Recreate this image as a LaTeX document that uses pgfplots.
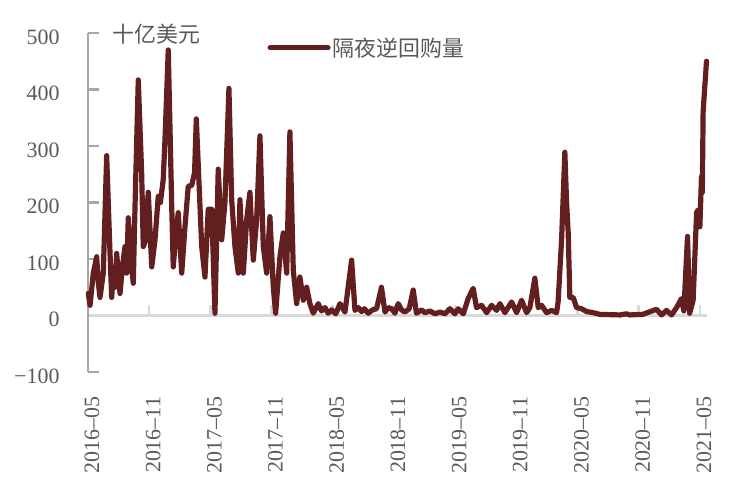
\documentclass[border=0pt]{standalone}
\usepackage{fontspec}
\setmainfont{Liberation Serif}
\newfontfamily\cjk{Noto Sans CJK SC}
\usepackage{pgfplots}
\pgfplotsset{compat=1.18}
\definecolor{linered}{RGB}{99,31,32}
\definecolor{axgray}{RGB}{166,166,166}
\definecolor{zgray}{RGB}{217,217,217}
\definecolor{txtgray}{RGB}{89,89,89}
\begin{document}
\begin{tikzpicture}
\useasboundingbox (-88bp,-117bp) rectangle (654bp,372bp);
\begin{axis}[
 at={(0,0)}, anchor=south west,
 scale only axis, width=619bp, height=339bp,
 xmin=0, xmax=60.7, ymin=-100, ymax=500,
 axis x line=middle, axis y line=left,
 hide obscured x ticks=false,
 x axis line style={draw=zgray, line width=2.5bp, -},
 y axis line style={draw=axgray, line width=2.5bp, -},
 xtick={0,6,...,60},
 xticklabels={2016–05,2016–11,2017–05,2017–11,2018–05,2018–11,2019–05,2019–11,2020–05,2020–11,2021–05},
 ytick={-100,0,100,200,300,400,500},
 yticklabels={−100,0,100,200,300,400,500},
 tick align=inside,
 major tick length=11bp,
 xtick style={draw=zgray, line width=2.5bp},
 ytick style={draw=axgray, line width=2.5bp},
 tick label style={font=\fontsize{22}{24}\selectfont, text=txtgray},
 xticklabel style={yshift=-78bp, xshift=4bp, rotate=90, anchor=east},
 yticklabel style={xshift=-25bp, yshift=-4bp, anchor=east},
 clip=false,
 legend style={at={(rel axis cs:0.285,0.956)}, anchor=west, draw=none, fill=none,
   font=\cjk\fontsize{22}{24}\selectfont, text=txtgray},
 legend image code/.code={\draw[#1, line width=5bp, line cap=round] (0bp,0bp) -- (58bp,0bp);},
]
\addplot[linered, line width=5.2bp, line join=round, line cap=round] coordinates {
(0.03,39) (0.20,18) (0.52,75) (0.85,104) (1.00,60) (1.18,32) (1.50,75) (1.83,283) (2.16,110)
(2.32,32) (2.50,80) (2.65,50) (2.81,110) (3.14,39) (3.40,90) (3.63,122) (3.79,75) (3.95,173) (4.20,100) (4.44,57) (4.61,193)
(4.93,417) (5.26,253) (5.42,122) (5.59,130) (5.91,218) (6.25,86) (6.57,134) (6.89,211)
(7.10,200) (7.38,241) (7.55,312) (7.87,470) (8.21,193) (8.36,86) (8.60,140) (8.85,182) (9.19,75) (9.51,157)
(9.83,229) (10.17,230) (10.45,253) (10.62,348) (11.15,122) (11.47,68) (11.79,188) (12.13,188)
(12.45,4) (12.77,259) (13.11,134) (13.43,200) (13.82,402) (14.09,205) (14.41,122) (14.74,75)
(14.90,205) (15.23,75) (15.56,170) (15.88,218) (16.21,98) (16.54,170) (16.86,318) (17.19,122)
(17.52,75) (17.84,175) (18.17,50) (18.40,4) (18.82,104) (19.15,146) (19.48,75) (19.80,325)
(20.13,80) (20.46,21) (20.78,68) (21.11,27) (21.44,50) (21.76,21) (22.09,4) (22.58,21)
(22.90,8) (23.24,14) (23.55,4) (23.89,10) (24.30,3) (24.71,21) (25.20,6) (25.85,98) (26.18,9) (26.50,14) (26.83,7) (27.10,12) (27.48,4)
(27.90,10) (28.30,12) (28.78,50) (29.12,6) (29.45,14) (29.77,12) (30.10,4) (30.42,21) (30.75,10) (31.08,6) (31.50,12) (31.89,45) (32.21,4)
(32.71,10) (33.04,5) (33.53,8) (34.02,3) (34.51,6) (35.00,3) (35.49,12) (35.98,3)
(36.30,12) (36.80,3) (37.28,30) (37.77,48) (38.10,14) (38.60,18) (39.09,5) (39.58,18)
(40.07,9) (40.39,21) (40.88,5) (41.54,24) (42.03,5) (42.52,27) (43.01,5) (43.33,14)
(43.82,66) (44.15,14) (44.48,18) (44.97,5) (45.46,9) (45.95,5) (46.10,24) (46.44,134)
(46.76,289) (46.93,200) (47.09,146) (47.25,32) (47.58,32) (47.91,14) (48.40,12) (48.89,7)
(49.54,5) (50.20,2) (52.16,1) (52.80,3) (53.10,1) (54.40,2) (55.75,11) (56.24,1)
(56.73,9) (57.22,1) (57.72,14) (58.20,30) (58.43,8) (58.79,140) (59.00,4) (59.34,27)
(59.68,182) (59.83,187) (60.00,157) (60.16,246) (60.24,218) (60.32,361) (60.65,450)
};
\addlegendentry{隔夜逆回购量}
\node[font=\cjk\fontsize{22}{24}\selectfont, text=txtgray] at (rel axis cs:0.111,0.997) {十亿美元};
\end{axis}
\end{tikzpicture}
\end{document}
